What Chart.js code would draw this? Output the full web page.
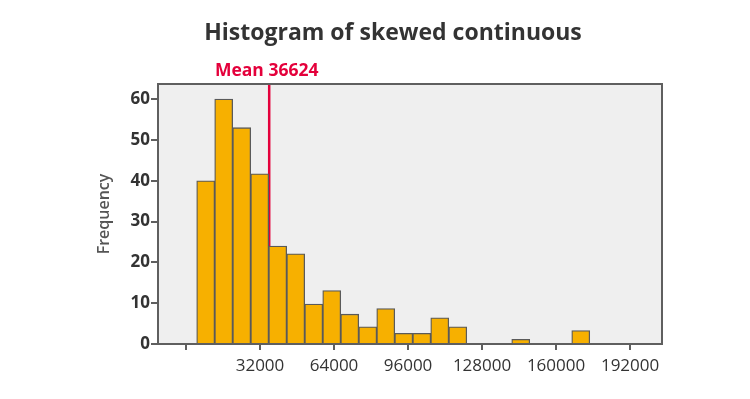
<!DOCTYPE html>
<html>
<head>
<meta charset="utf-8">
<script src="https://cdn.jsdelivr.net/npm/chart.js@4.4.1/dist/chart.umd.min.js"></script>
<style>
html,body{margin:0;padding:0;background:#fff;}
#wrap{width:750px;height:399px;position:relative;}
</style>
</head>
<body>
<div id="wrap"><canvas id="c" width="750" height="399"></canvas></div>
<script>
// Bin centres (value units) and frequencies
const binCenters = [8519, 16303, 24087, 31871, 39655, 47439, 55223, 63007, 70791, 78575, 86359, 94143, 101927, 109711, 117495, 144728, 170672];
const frequencies = [40, 60, 53, 41.7, 24, 22.1, 9.8, 13.1, 7.3, 4.2, 8.7, 2.6, 2.6, 6.4, 4.2, 1.15, 3.3];
const xTicks = [0, 32000, 64000, 96000, 128000, 160000, 192000];
const yTicks = [0, 10, 20, 30, 40, 50, 60];
const meanValue = 36624;
const meanLabel = 'Mean 36624';
const titleText = 'Histogram of skewed continuous';
const yTitle = 'Frequency';

const points = binCenters.map((x, i) => ({x: x, y: frequencies[i]}));

const areaPlugin = {
  id: 'area',
  beforeDatasetsDraw(chart) {
    const {ctx, chartArea: a, scales} = chart;
    ctx.save();
    ctx.fillStyle = '#efefef';
    ctx.fillRect(a.left, a.top, a.right - a.left, a.bottom - a.top);
    const mx = scales.x.getPixelForValue(meanValue) - 1.5;
    ctx.strokeStyle = '#e4003b';
    ctx.lineWidth = 2.5;
    ctx.beginPath();
    ctx.moveTo(mx, a.top);
    ctx.lineTo(mx, a.bottom);
    ctx.stroke();
    ctx.restore();
  },
  afterDatasetsDraw(chart) {
    const {ctx, chartArea: a, scales} = chart;
    ctx.save();
    ctx.strokeStyle = '#5f5f5f';
    ctx.lineWidth = 2;
    ctx.strokeRect(a.left, a.top, a.right - a.left, a.bottom - a.top);
    const mx = scales.x.getPixelForValue(meanValue);
    ctx.fillStyle = '#e4003b';
    ctx.font = 'bold 17.5px "Open Sans"';
    ctx.textAlign = 'center';
    ctx.textBaseline = 'middle';
    ctx.fillText(meanLabel, mx - 4, 71);
    ctx.fillStyle = '#333333';
    ctx.font = 'bold 23px "Open Sans"';
    ctx.fillText(titleText, 393, 33);
    ctx.restore();
  }
};

new Chart(document.getElementById('c'), {
  type: 'bar',
  data: {
    datasets: [{
      data: points,
      backgroundColor: '#f7b000',
      borderColor: '#5a5a5a',
      borderWidth: 1.3,
      barPercentage: 1,
      categoryPercentage: 1
    }]
  },
  options: {
    responsive: false,
    animation: false,
    layout: {padding: {left: 95, right: 88, top: 84, bottom: 0}},
    plugins: {
      legend: {display: false},
      tooltip: {enabled: false},
      title: {display: false}
    },
    scales: {
      x: {
        type: 'linear',
        min: -12100,
        max: 205800,
        offset: false,
        afterBuildTicks(s) { s.ticks = xTicks.map(v => ({value: v})); },
        afterFit(s) { s.height = 55; },
        ticks: {
          includeBounds: false,
          autoSkip: false,
          maxRotation: 0,
          color: '#333333',
          font: {family: '"Open Sans"', size: 17},
          padding: 6,
          callback: v => v === 0 ? '' : String(v)
        },
        grid: {drawOnChartArea: false, drawTicks: true, tickLength: 6, color: '#5f5f5f', lineWidth: 2, offset: false},
        border: {display: true, color: '#5f5f5f', width: 2}
      },
      y: {
        min: 0,
        max: 63.7,
        afterBuildTicks(s) { s.ticks = yTicks.map(v => ({value: v})); },
        afterFit(s) { s.width = 63; },
        ticks: {
          includeBounds: false,
          color: '#333333',
          font: {family: '"Open Sans"', size: 17, weight: 'bold'},
          padding: 1
        },
        title: {
          display: true,
          text: yTitle,
          color: '#555555',
          font: {family: '"Open Sans"', size: 16, weight: '600'},
          padding: {top: 0, bottom: 8}
        },
        grid: {drawOnChartArea: false, drawTicks: true, tickLength: 7, color: '#5f5f5f', lineWidth: 2},
        border: {display: true, color: '#5f5f5f', width: 2}
      }
    }
  },
  plugins: [areaPlugin]
});
</script>
</body>
</html>
